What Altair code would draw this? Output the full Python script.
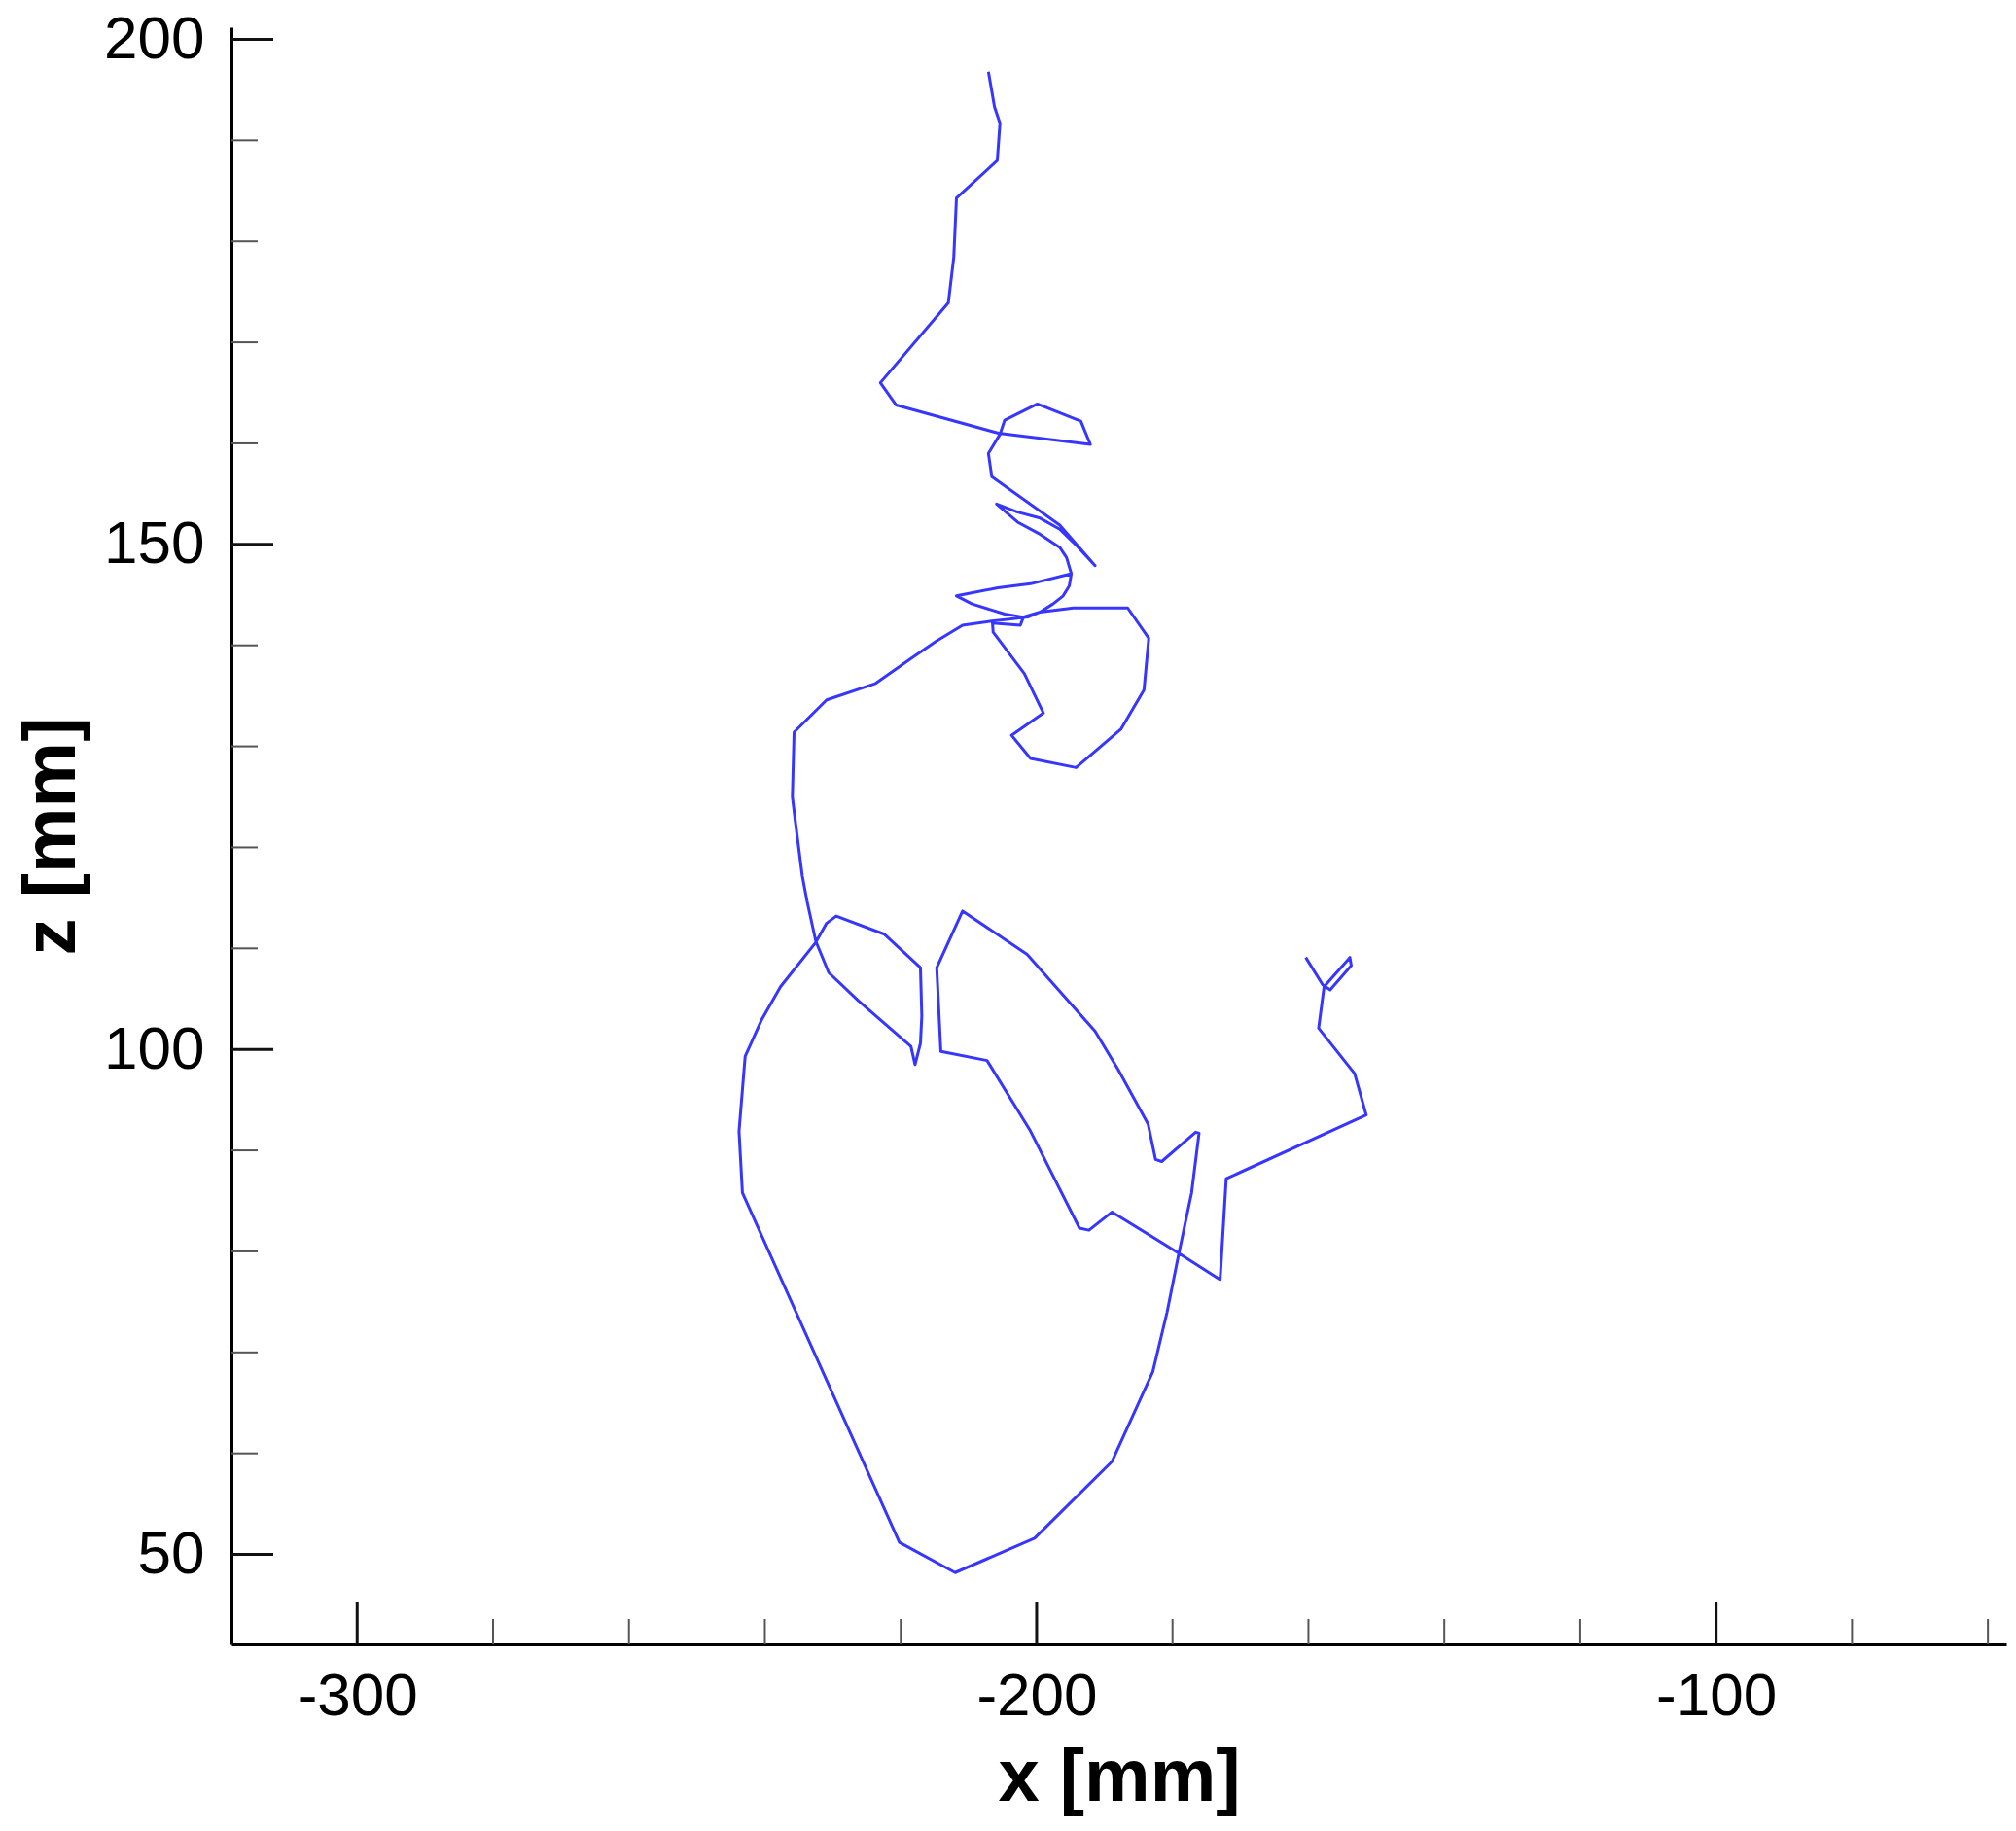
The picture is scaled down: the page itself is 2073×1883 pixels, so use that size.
import altair as alt
import pandas as pd

# trajectory (x [mm], z [mm]) in drawing order
x_mm = [-207.1, -206.2, -205.4, -205.8, -211.8, -212.2, -213.0, -223.0, -220.7, -205.6,
        -192.1, -193.5, -199.9, -204.7, -205.4, -207.1, -206.6, -196.6, -191.4,
        -194.0, -196.6, -199.5, -202.8, -205.9,
        -202.8, -199.5, -196.6, -195.6, -194.9,
        -195.2, -196.1, -197.6, -199.5, -202.0,
        -204.7, -209.5, -211.8,
        -205.7, -200.9, -194.9,
        -195.2, -196.1, -197.6, -199.5, -202.0,
        -202.4, -206.5,
        -206.4, -201.8, -199.0, -203.7, -200.9, -194.2, -187.6, -184.2, -183.5, -186.6,
        -194.6, -199.5, -201.3, -206.6, -210.9, -214.8, -218.5, -223.8, -230.9, -235.7,
        -235.95, -235.5, -234.5, -233.8, -232.5, -230.6, -226.2, -218.5, -217.9, -217.1,
        -216.9, -217.1, -222.4, -229.5, -230.9, -232.5, -237.7, -240.5, -242.9, -243.8,
        -243.3, -220.2, -212.0, -200.3, -188.9, -182.9, -180.8, -179.1, -177.2, -176.1,
        -176.6, -181.6, -182.5, -183.6, -188.0, -191.4, -201.4, -210.9, -214.7, -214.1,
        -207.3, -200.9, -193.7, -192.3, -188.9, -179.5, -173.0, -172.1, -151.5, -153.2,
        -158.5, -157.7, -153.9, -153.7, -156.8, -157.9, -160.4]
z_mm = [196.8, 193.3, 191.7, 188.0, 184.3, 178.4, 173.9, 166.0, 163.8, 161.0,
        159.9, 162.2, 163.9, 162.3, 160.9, 159.0, 156.7, 151.9, 147.9,
        149.8, 151.5, 152.6, 153.2, 154.0,
        152.2, 151.0, 149.7, 148.7, 147.1,
        145.9, 144.9, 144.1, 143.3, 142.8,
        143.1, 144.1, 144.9,
        145.7, 146.1, 147.1,
        145.9, 144.9, 144.1, 143.3, 142.7,
        142.0, 142.2,
        141.3, 137.2, 133.3, 131.1, 128.8, 127.9, 131.7, 135.6, 140.7, 143.7,
        143.7, 143.3, 142.8, 142.4, 142.0, 140.4, 138.7, 136.2, 134.6, 131.4,
        125.0, 122.5, 117.2, 114.7, 110.7, 107.6, 104.8, 100.3, 98.5, 100.6,
        103.3, 108.1, 111.4, 113.2, 112.5, 110.6, 106.2, 102.9, 99.3, 91.9,
        85.8, 51.2, 48.2, 51.6, 59.2, 68.1, 74.0, 79.7, 85.8, 91.7,
        91.8, 88.9, 89.1, 92.6, 98.0, 101.8, 109.4, 113.7, 108.1, 99.8,
        98.9, 91.9, 82.3, 82.1, 83.9, 80.0, 77.2, 87.2, 93.5, 97.6,
        102.1, 106.2, 109.1, 108.3, 105.9, 106.4, 109.1]

x_major = [-300, -200, -100]
x_minor = [-280, -260, -240, -220, -180, -160, -140, -120, -80, -60]
z_major = [50, 100, 150, 200]
z_minor = [60, 70, 80, 90, 110, 120, 130, 140, 160, 170, 180, 190]

W, H = 1825, 1663
FONT = "Liberation Sans"

xscale = alt.Scale(domain=[-318.5, -57.3], nice=False, zero=False)
yscale = alt.Scale(domain=[41.1, 201.2], nice=False, zero=False)

x_axis = alt.Axis(
    title="x [mm]", values=x_major, labelExpr="'' + datum.value", ticks=False, grid=False,
    domainColor="black", domainWidth=3, labelFont=FONT, labelFontSize=62, labelColor="black",
    labelPadding=23, titleFont=FONT, titleFontSize=76, titleFontWeight="bold", titleColor="black",
    titleX=W / 2, titleY=160, titleAlign="center", titleBaseline="alphabetic")
y_axis = alt.Axis(
    title="z [mm]", values=z_major, labelExpr="'' + datum.value", ticks=False, grid=False,
    domainColor="black", domainWidth=3, labelFont=FONT, labelFontSize=62, labelColor="black",
    labelPadding=28, titleFont=FONT, titleFontSize=76, titleFontWeight="bold", titleColor="black",
    titleAngle=270, titleX=-162, titleY=H / 2, titleAlign="center", titleBaseline="alphabetic")

path = pd.DataFrame({"x": x_mm, "z": z_mm, "i": list(range(len(x_mm)))})

line = alt.Chart(path).mark_line(color="#3636ff", strokeWidth=3, strokeJoin="round").encode(
    x=alt.X("x:Q", scale=xscale, axis=x_axis),
    y=alt.Y("z:Q", scale=yscale, axis=y_axis),
    order=alt.Order("i:Q"),
)

xmaj = alt.Chart(pd.DataFrame({"x": x_major})).mark_rule(color="#111111", strokeWidth=3).encode(
    x=alt.X("x:Q", scale=xscale, axis=x_axis), y=alt.value(H), y2=alt.value(H - 43))
xmin = alt.Chart(pd.DataFrame({"x": x_minor})).mark_rule(color="#555555", strokeWidth=2).encode(
    x=alt.X("x:Q", scale=xscale, axis=x_axis), y=alt.value(H), y2=alt.value(H - 26))
ymaj = alt.Chart(pd.DataFrame({"z": z_major})).mark_rule(color="#111111", strokeWidth=3).encode(
    y=alt.Y("z:Q", scale=yscale, axis=y_axis), x=alt.value(0), x2=alt.value(43))
ymin = alt.Chart(pd.DataFrame({"z": z_minor})).mark_rule(color="#555555", strokeWidth=2).encode(
    y=alt.Y("z:Q", scale=yscale, axis=y_axis), x=alt.value(0), x2=alt.value(27))

chart = alt.layer(xmin, xmaj, ymin, ymaj, line).properties(
    width=W, height=H,
    autosize=alt.AutoSizeParams(type="none"),
    padding={"left": 230, "top": 20, "right": 2, "bottom": 184},
    background="white",
).configure_view(strokeWidth=0)

chart.save("out.html", embed_options={"renderer": "svg", "actions": False})
